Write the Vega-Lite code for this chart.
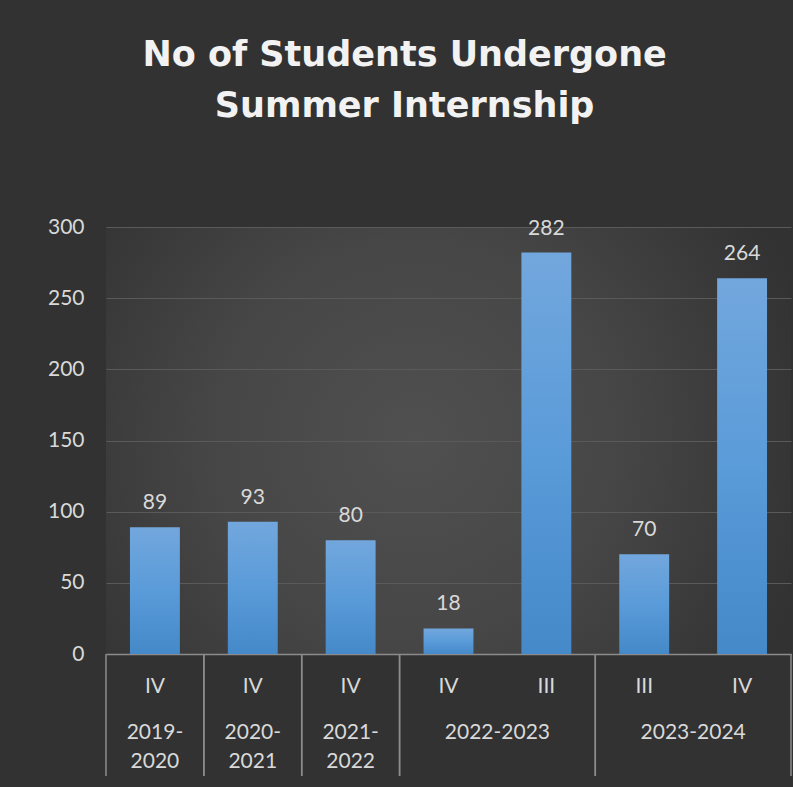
{
  "$schema": "https://vega.github.io/schema/vega-lite/v6.json",
  "background": "#323232",
  "padding": {"left": 47, "top": 38, "right": 3, "bottom": 12},
  "title": {
    "text": ["No of Students Undergone", "Summer Internship"],
    "font": "DejaVu Sans",
    "fontSize": 35,
    "fontWeight": "bold",
    "color": "#f2f2f2",
    "lineHeight": 51,
    "anchor": "middle",
    "dx": -15,
    "offset": 92
  },
  "datasets": {
    "bars": [
      {"period": "2019-2020", "sem": "IV", "cat": "2019-2020 IV", "students": 89},
      {"period": "2020-2021", "sem": "IV", "cat": "2020-2021 IV", "students": 93},
      {"period": "2021-2022", "sem": "IV", "cat": "2021-2022 IV", "students": 80},
      {"period": "2022-2023", "sem": "IV", "cat": "2022-2023 IV", "students": 18},
      {"period": "2022-2023", "sem": "III", "cat": "2022-2023 III", "students": 282},
      {"period": "2023-2024", "sem": "III", "cat": "2023-2024 III", "students": 70},
      {"period": "2023-2024", "sem": "IV", "cat": "2023-2024 IV", "students": 264}
    ],
    "groups": [
      {"period": "2019-2020", "label": "2019-\n2020", "first": "2019-2020 IV", "last": "2019-2020 IV", "n": 1},
      {"period": "2020-2021", "label": "2020-\n2021", "first": "2020-2021 IV", "last": "2020-2021 IV", "n": 1},
      {"period": "2021-2022", "label": "2021-\n2022", "first": "2021-2022 IV", "last": "2021-2022 IV", "n": 1},
      {"period": "2022-2023", "label": "2022-2023", "first": "2022-2023 IV", "last": "2022-2023 III", "n": 2},
      {"period": "2023-2024", "label": "2023-2024", "first": "2023-2024 III", "last": "2023-2024 IV", "n": 2}
    ]
  },
  "spacing": 0,
  "bounds": "flush",
  "vconcat": [
    {
      "width": 685,
      "height": 427,
      "data": {"name": "bars"},
      "view": {
        "stroke": null,
        "fill": {
          "gradient": "radial",
          "x1": 0.45, "y1": 0.5, "r1": 0,
          "x2": 0.45, "y2": 0.5, "r2": 0.6,
          "stops": [
            {"offset": 0, "color": "#505050"},
            {"offset": 0.5, "color": "#464646"},
            {"offset": 1, "color": "#323232"}
          ]
        }
      },
      "encoding": {
        "x": {
          "field": "cat",
          "type": "nominal",
          "sort": null,
          "scale": {"paddingInner": 0.49, "paddingOuter": 0.245},
          "axis": {"labels": false, "ticks": false, "title": null, "grid": false, "domainColor": "#8c8c8c", "domainWidth": 1.5}
        },
        "y": {
          "field": "students",
          "type": "quantitative",
          "scale": {"domain": [0, 300], "nice": false},
          "axis": {
            "values": [0, 50, 100, 150, 200, 250, 300],
            "title": null,
            "domain": false,
            "ticks": false,
            "grid": true,
            "gridColor": "#5a5a5a",
            "gridWidth": 1,
            "labelPadding": 22
          }
        }
      },
      "layer": [
        {
          "mark": {
            "type": "bar",
            "fill": {
              "gradient": "linear",
              "x1": 0, "y1": 0, "x2": 0, "y2": 1,
              "stops": [
                {"offset": 0, "color": "#72a7dd"},
                {"offset": 0.5, "color": "#5a9bd9"},
                {"offset": 1, "color": "#4589c9"}
              ]
            }
          }
        },
        {
          "mark": {"type": "text", "dy": -18, "baseline": "alphabetic", "font": "Lato", "fontSize": 21, "color": "#d9d9d9"},
          "encoding": {"text": {"field": "students", "type": "quantitative"}}
        }
      ]
    },
    {
      "width": 685,
      "height": 122,
      "view": {"stroke": null, "fill": null},
      "layer": [
        {
          "data": {"name": "groups"},
          "mark": {"type": "rule", "color": "#8c8c8c", "strokeWidth": 1.5},
          "encoding": {
            "x": {"field": "first", "type": "nominal", "bandPosition": 0,
              "scale": {"domain": ["2019-2020 IV", "2020-2021 IV", "2021-2022 IV", "2022-2023 IV", "2022-2023 III", "2023-2024 III", "2023-2024 IV"], "paddingInner": 0, "paddingOuter": 0},
              "axis": null}
          }
        },
        {
          "data": {"name": "groups"},
          "mark": {"type": "rule", "color": "#8c8c8c", "strokeWidth": 1.5},
          "encoding": {
            "x": {"field": "last", "type": "nominal", "bandPosition": 1, "axis": null}
          }
        },
        {
          "data": {"name": "bars"},
          "mark": {"type": "text", "baseline": "alphabetic", "font": "Lato", "fontSize": 21, "color": "#d9d9d9"},
          "encoding": {
            "x": {"field": "cat", "type": "nominal", "axis": null},
            "y": {"datum": "sem", "type": "nominal", "scale": {"type": "point", "domain": ["sem", "period"], "range": [39, 85], "padding": 0}, "axis": null},
            "text": {"field": "sem", "type": "nominal"}
          }
        },
        {
          "data": {"name": "groups"},
          "transform": [{"filter": "datum.n == 1"}],
          "mark": {"type": "text", "baseline": "alphabetic", "font": "Lato", "fontSize": 21, "color": "#d9d9d9", "lineBreak": "\n", "lineHeight": 29},
          "encoding": {
            "x": {"field": "first", "type": "nominal", "axis": null},
            "y": {"datum": "period", "type": "nominal", "axis": null},
            "text": {"field": "label", "type": "nominal"}
          }
        },
        {
          "data": {"name": "groups"},
          "transform": [{"filter": "datum.n == 2"}],
          "mark": {"type": "text", "baseline": "alphabetic", "font": "Lato", "fontSize": 21, "color": "#d9d9d9"},
          "encoding": {
            "x": {"field": "last", "type": "nominal", "bandPosition": 0, "axis": null},
            "y": {"datum": "period", "type": "nominal", "axis": null},
            "text": {"field": "label", "type": "nominal"}
          }
        }
      ]
    }
  ],
  "config": {
    "axis": {"labelFont": "Lato", "labelFontSize": 21, "labelColor": "#d9d9d9"},
    "view": {"stroke": null}
  }
}
